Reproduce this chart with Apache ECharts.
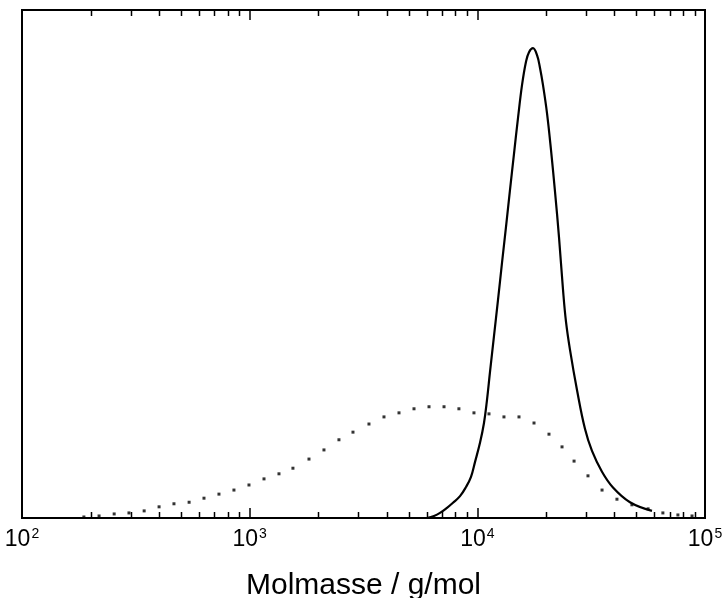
<!DOCTYPE html>
<html>
<head>
<meta charset="utf-8">
<script src="https://cdn.jsdelivr.net/npm/echarts@6/dist/echarts.min.js"></script>
<style>html,body{margin:0;padding:0;background:#fff}#c{width:722px;height:598px}</style>
</head>
<body>
<div id="c"></div>
<script>
// Molar mass (g/mol) and normalized signal
const solidSeries = [
  [6009, 0.0], [6452, 0.004], [6855, 0.010], [7357, 0.020], [7818, 0.030],
  [8393, 0.043], [8917, 0.061], [9380, 0.081], [9765, 0.110], [10273, 0.148],
  [10696, 0.187], [11025, 0.232], [11364, 0.287], [11834, 0.358], [12322, 0.429],
  [12833, 0.502], [13363, 0.573], [13915, 0.646], [14488, 0.717], [15086, 0.787],
  [15712, 0.852], [16357, 0.898], [16862, 0.917], [17560, 0.925], [18290, 0.911],
  [18850, 0.886], [19430, 0.852], [20230, 0.797], [21070, 0.724], [21940, 0.642],
  [22840, 0.553], [23790, 0.449], [24520, 0.386], [25530, 0.331], [27400, 0.252],
  [29720, 0.175], [31890, 0.132], [35280, 0.091], [39430, 0.060], [46830, 0.031],
  [58500, 0.014]
];
const dottedSeries = [
  [187, 0.002], [218, 0.004], [254, 0.008], [295, 0.010], [344, 0.014],
  [400, 0.022], [465, 0.028], [542, 0.031], [630, 0.039], [733, 0.047],
  [853, 0.055], [993, 0.065], [1156, 0.077], [1345, 0.087], [1549, 0.098],
  [1822, 0.116], [2120, 0.134], [2467, 0.154], [2843, 0.169], [3342, 0.185],
  [3890, 0.199], [4528, 0.207], [5270, 0.215], [6134, 0.219], [7140, 0.219],
  [8300, 0.215], [9665, 0.207], [11250, 0.205], [13090, 0.199], [15240, 0.199],
  [17740, 0.187], [20640, 0.165], [23550, 0.140], [26600, 0.112], [30620, 0.083],
  [35300, 0.055], [41040, 0.037], [47750, 0.026], [56230, 0.018], [65310, 0.010],
  [76030, 0.006], [87690, 0.004]
];
const minorTickValues = [200,300,400,500,600,700,800,900,
  2000,3000,4000,5000,6000,7000,8000,9000,
  20000,30000,40000,50000,60000,70000,80000,90000];
const xMin = 100, xMax = 100000;
const xAxisName = 'Molmasse / g/mol';

const FONT = '"Liberation Sans", Arial, sans-serif';
const chart = echarts.init(document.getElementById('c'), null, {renderer: 'canvas'});
const axisCommon = {
  type: 'log', logBase: 10, min: xMin, max: xMax,
  axisLine: {show: true, lineStyle: {color: '#000', width: 2}},
  axisTick: {show: true, inside: true, length: 10, lineStyle: {color: '#000', width: 1.5}},
  splitLine: {show: false}, minorTick: {show: false}
};
chart.setOption({
  animation: false,
  backgroundColor: '#fff',
  grid: {left: 22, right: 17, top: 10, bottom: 80, containLabel: false, outerBoundsMode: 'none',
         show: true, borderColor: '#000', borderWidth: 2},
  xAxis: [
    Object.assign({}, axisCommon, {
      position: 'bottom',
      name: xAxisName, nameLocation: 'middle', nameGap: 53,
      nameTextStyle: {fontFamily: FONT, fontSize: 30, color: '#000'},
      axisLabel: {
        show: true, margin: 9, showMinLabel: true, showMaxLabel: true,
        formatter: function (v) { return '{b|10}{s|' + Math.round(Math.log10(v)) + '}'; },
        rich: {
          b: {fontFamily: FONT, fontSize: 23, color: '#000'},
          s: {fontFamily: FONT, fontSize: 14, color: '#000', padding: [0, 0, 12, 1]}
        }
      }
    }),
    Object.assign({}, axisCommon, {position: 'top', axisLabel: {show: false}})
  ],
  yAxis: {
    type: 'value', min: 0, max: 1,
    axisLine: {show: true, lineStyle: {color: '#000', width: 2}},
    axisTick: {show: false}, axisLabel: {show: false}, splitLine: {show: false}
  },
  series: [
    {
      type: 'custom', xAxisIndex: 0, yAxisIndex: 0, silent: true,
      data: minorTickValues.map(v => [v, 0]),
      encode: {x: 0, y: 1},
      renderItem: function (params, api) {
        const v = api.value(0);
        const pb = api.coord([v, 0]);
        const pt = api.coord([v, 1]);
        const x = Math.round(pb[0]) + 0.5;
        return {type: 'group', children: [
          {type: 'line', shape: {x1: x, y1: pb[1], x2: x, y2: pb[1] - 6}, style: {stroke: '#000', lineWidth: 1.5}},
          {type: 'line', shape: {x1: x, y1: pt[1], x2: x, y2: pt[1] + 6}, style: {stroke: '#000', lineWidth: 1.5}}
        ]};
      }
    },
    {
      type: 'line', data: solidSeries, showSymbol: false, smooth: 0.4,
      lineStyle: {color: '#000', width: 2.2}, silent: true
    },
    {
      type: 'scatter', data: dottedSeries, symbol: 'rect', symbolSize: 3,
      itemStyle: {color: '#000'}, silent: true
    }
  ]
});
</script>
</body>
</html>
